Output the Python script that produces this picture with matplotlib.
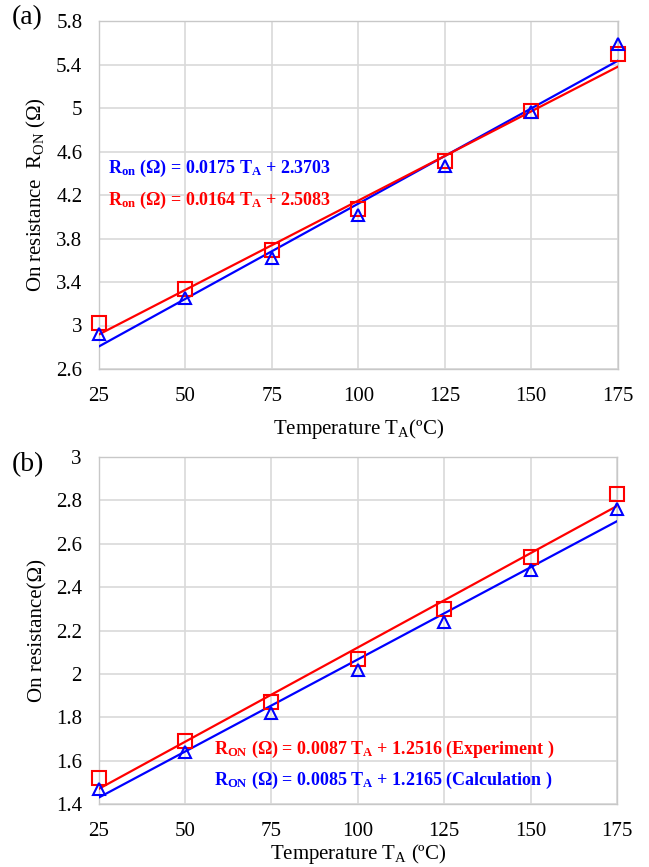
import matplotlib
matplotlib.use("Agg")
import matplotlib.pyplot as plt
from matplotlib.ticker import FuncFormatter
import numpy as np

plt.rcParams.update({
    "font.family": ["Liberation Serif", "DejaVu Serif"],
    "mathtext.fontset": "custom",
    "mathtext.rm": "Liberation Serif",
    "mathtext.it": "Liberation Serif:italic",
    "mathtext.bf": "Liberation Serif:bold",
})

# Ambient temperature (°C)
temps = [25, 50, 75, 100, 125, 150, 175]

# (a) on resistance (Ω)
a_red = [3.02, 3.34, 3.69, 4.07, 4.51, 4.97, 5.50]
a_blue = [2.92, 3.25, 3.62, 4.02, 4.47, 4.96, 5.59]
a_red_fit = (0.0164, 2.5083)
a_blue_fit = (0.0175, 2.3703)

# (b) on resistance (Ω)
b_red = [1.52, 1.69, 1.87, 2.07, 2.30, 2.54, 2.83]
b_blue = [1.47, 1.64, 1.82, 2.02, 2.24, 2.48, 2.76]
b_red_fit = (0.0087, 1.2516)
b_blue_fit = (0.0085, 1.2165)

RED = "#ff0000"
BLUE = "#0000ff"
GRID = "#d9d9d9"

fig = plt.figure(figsize=(6.49, 8.67), dpi=100)
ax_a = fig.add_axes([99 / 649, 1 - 369 / 867, 518.5 / 649, 348 / 867])
ax_b = fig.add_axes([98.5 / 649, 1 - 804 / 867, 518.5 / 649, 347 / 867])


def style_axes(ax, ylim, yticks):
    ax.set_xlim(25, 175)
    ax.set_ylim(*ylim)
    ax.set_xticks(temps)
    ax.set_yticks(yticks)
    ax.yaxis.set_major_formatter(FuncFormatter(lambda v, p: f"{v:g}"))
    ax.grid(True, color=GRID, linewidth=1.2)
    ax.set_axisbelow(True)
    for s in ax.spines.values():
        s.set_color("#c8c8c8")
        s.set_linewidth(1.0)
    ax.tick_params(length=0, labelsize=15, pad=12)
    ax.tick_params(axis="x", pad=13)


def draw_series(ax, red, blue, red_fit, blue_fit):
    t = np.array([temps[0], temps[-1]], dtype=float)
    ax.plot(t, blue_fit[0] * t + blue_fit[1], color=BLUE, lw=1.6, zorder=3)
    ax.plot(t, red_fit[0] * t + red_fit[1], color=RED, lw=1.6, zorder=3)
    ax.plot(temps, red, ls="none", marker="s", ms=10, mfc="none",
            mec=RED, mew=1.5, zorder=4, clip_on=False)
    ax.plot(temps, blue, ls="none", marker="^", ms=8, mfc="none",
            mec=BLUE, mew=1.5, zorder=5, clip_on=False)


def eq_text(sub, fit, suffix=""):
    return (r"R$_{\mathbf{" + sub + r"}}$ ($\mathbf{\Omega}$) = "
            + f"{fit[0]:.4f} " + r"T$_{\mathbf{A}}$" + f" + {fit[1]:.4f}" + suffix)


# Panel (a)
style_axes(ax_a, (2.6, 5.8), np.arange(2.6, 5.81, 0.4))
draw_series(ax_a, a_red, a_blue, a_red_fit, a_blue_fit)
ax_a.set_xlabel(r"Temperature T$_{\mathrm{A}}$(ºC)", fontsize=15, labelpad=8)
ax_a.set_ylabel(r"On resistance  R$_{\mathrm{ON}}$ (Ω)", fontsize=15, labelpad=6)
ax_a.text(27.6, 4.44, eq_text("on", a_blue_fit), color=BLUE, fontsize=13,
          fontweight="bold", va="center", ha="left")
ax_a.text(27.6, 4.15, eq_text("on", a_red_fit), color=RED, fontsize=13,
          fontweight="bold", va="center", ha="left")
fig.text(12 / 649, 1 - 18 / 867, "(a)", fontsize=20, va="center", ha="left")

# Panel (b)
style_axes(ax_b, (1.4, 3.0), np.arange(1.4, 3.01, 0.2))
draw_series(ax_b, b_red, b_blue, b_red_fit, b_blue_fit)
ax_b.set_xlabel(r"Temperature T$_{\mathrm{A}}$ (ºC)", fontsize=15, labelpad=1)
ax_b.set_ylabel("On resistance(Ω)", fontsize=15, labelpad=6)
ax_b.text(58.4, 1.65, eq_text("ON", b_red_fit, " (Experiment )"), color=RED,
          fontsize=13, fontweight="bold", va="center", ha="left")
ax_b.text(58.4, 1.51, eq_text("ON", b_blue_fit, " (Calculation )"), color=BLUE,
          fontsize=13, fontweight="bold", va="center", ha="left")
fig.text(12 / 649, 1 - 465 / 867, "(b)", fontsize=20, va="center", ha="left")

fig.savefig("out.png", dpi=100)
